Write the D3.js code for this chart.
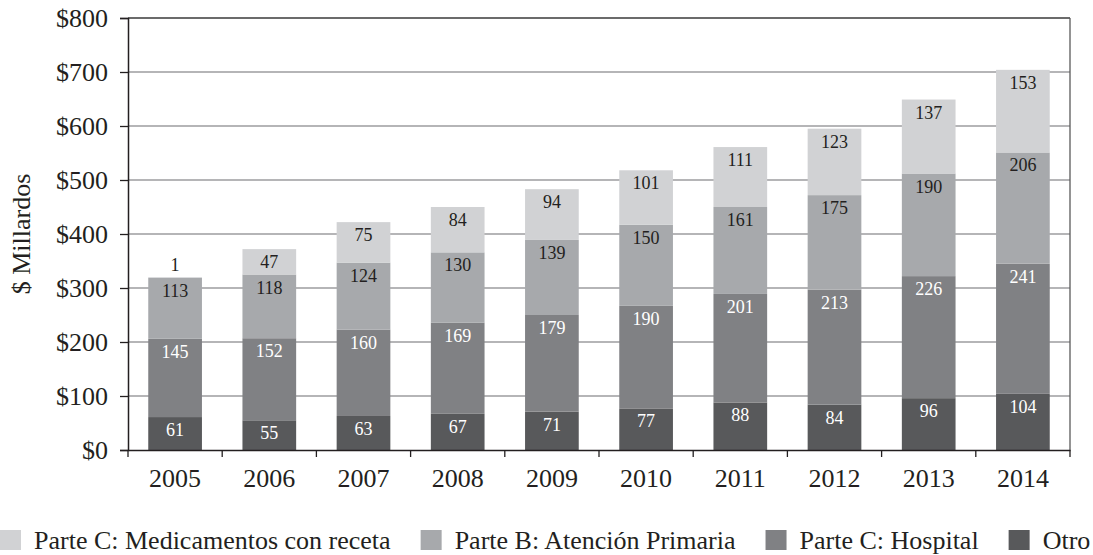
<!DOCTYPE html>
<html>
<head>
<meta charset="utf-8">
<script src="https://cdn.jsdelivr.net/npm/d3@7/dist/d3.min.js"></script>
<style>
  html, body { margin: 0; padding: 0; background: #fff; }
  svg { display: block; }
  text { font-family: "Liberation Serif", "DejaVu Serif", serif; }
</style>
</head>
<body>
<svg id="chart" width="1093" height="555"></svg>
<script>
const years = ["2005","2006","2007","2008","2009","2010","2011","2012","2013","2014"];
const otro          = [61, 55, 63, 67, 71, 77, 88, 84, 96, 104];
const hospital      = [145, 152, 160, 169, 179, 190, 201, 213, 226, 241];
const primaria      = [113, 118, 124, 130, 139, 150, 161, 175, 190, 206];
const medicamentos  = [1, 47, 75, 84, 94, 101, 111, 123, 137, 153];
const yTicks = [0, 100, 200, 300, 400, 500, 600, 700, 800];
const seriesNames = ["Otro", "Parte C: Hospital", "Parte B: Atención Primaria", "Parte C: Medicamentos con receta"];
const legendOrder = ["Parte C: Medicamentos con receta", "Parte B: Atención Primaria", "Parte C: Hospital", "Otro"];
const yTitle = "$ Millardos";

const colors = {
  "Otro": "#58595b",
  "Parte C: Hospital": "#808184",
  "Parte B: Atención Primaria": "#a7a9ac",
  "Parte C: Medicamentos con receta": "#d1d2d4"
};
const labelColors = {
  "Otro": "#ffffff",
  "Parte C: Hospital": "#ffffff",
  "Parte B: Atención Primaria": "#231f20",
  "Parte C: Medicamentos con receta": "#231f20"
};

const table = years.map((y, i) => ({
  year: y,
  "Otro": otro[i],
  "Parte C: Hospital": hospital[i],
  "Parte B: Atención Primaria": primaria[i],
  "Parte C: Medicamentos con receta": medicamentos[i]
}));

const svg = d3.select("#chart");
const L = 128, R = 1070, T = 18, B = 450;
const FS = 26;

const x = d3.scaleBand().domain(years).range([L, R]).paddingInner(0.43).paddingOuter(0.215);
const y = d3.scaleLinear().domain([0, 800]).range([B, T]);

// gridlines
svg.append("g").selectAll("line").data(yTicks.filter(d => d > 0 && d < 800)).join("line")
  .attr("x1", L).attr("x2", R)
  .attr("y1", d => y(d)).attr("y2", d => y(d))
  .attr("stroke", "#9d9d9f").attr("stroke-width", 1.3);

// bars
const stack = d3.stack().keys(seriesNames)(table);
const layers = svg.append("g").selectAll("g").data(stack).join("g")
  .attr("fill", d => colors[d.key]);
layers.selectAll("rect").data(d => d).join("rect")
  .attr("x", d => x(d.data.year))
  .attr("width", x.bandwidth())
  .attr("y", d => y(d[1]))
  .attr("height", d => y(d[0]) - y(d[1]));

// labels
const lab = svg.append("g").attr("font-size", 18).attr("text-anchor", "middle");
stack.forEach(layer => {
  layer.forEach(d => {
    const v = d.data[layer.key];
    const top = y(d[1]);
    const h = y(d[0]) - y(d[1]);
    const small = h < 20;
    lab.append("text")
      .attr("x", x(d.data.year) + x.bandwidth() / 2)
      .attr("y", small ? top - 6 : top + 19)
      .attr("fill", small ? "#231f20" : labelColors[layer.key])
      .text(v);
  });
});

// frame: top and right
svg.append("line").attr("x1", L).attr("x2", R).attr("y1", y(800)).attr("y2", y(800))
  .attr("stroke", "#3a3a3a").attr("stroke-width", 1.3);
svg.append("line").attr("x1", R).attr("x2", R).attr("y1", T).attr("y2", B)
  .attr("stroke", "#5a5a5a").attr("stroke-width", 1.3);

// y axis
const yAxis = d3.axisLeft(y).tickValues(yTicks).tickSize(8).tickPadding(12).tickFormat(d => "$" + d);
const gy = svg.append("g").attr("transform", `translate(${L},0)`).call(yAxis);
gy.select(".domain").attr("stroke", "#231f20").attr("stroke-width", 1.5);
gy.selectAll(".tick line").attr("stroke", "#231f20").attr("stroke-width", 1.3);
gy.selectAll(".tick text").attr("font-size", FS).attr("fill", "#231f20");

// x axis
const xAxis = d3.axisBottom(x).tickSize(0).tickPadding(19);
const gx = svg.append("g").attr("transform", `translate(0,${B})`).call(xAxis);
gx.select(".domain").attr("stroke", "#231f20").attr("stroke-width", 1.5);
gx.selectAll(".tick text").attr("font-size", FS).attr("fill", "#231f20");
const gap = (x.step() - x.bandwidth()) / 2;
const bounds = years.map(d => x(d) - gap).concat([x(years[years.length - 1]) + x.bandwidth() + gap]);
gx.append("g").selectAll("line").data(bounds).join("line")
  .attr("x1", d => d).attr("x2", d => d).attr("y1", 0).attr("y2", 7)
  .attr("stroke", "#231f20").attr("stroke-width", 1.3);

// y title
svg.append("text")
  .attr("transform", `translate(30,${(T + B) / 2}) rotate(-90)`)
  .attr("text-anchor", "middle")
  .attr("font-size", FS).attr("fill", "#231f20")
  .text(yTitle);

// legend
const lg = svg.append("g").attr("font-size", FS);
let cx = 0;
legendOrder.forEach(name => {
  lg.append("rect").attr("x", cx).attr("y", 530).attr("width", 21).attr("height", 20)
    .attr("fill", colors[name]);
  const t = lg.append("text").attr("x", cx + 34).attr("y", 549).attr("fill", "#231f20").text(name);
  cx += 34 + t.node().getComputedTextLength() + 30;
});
</script>
</body>
</html>
